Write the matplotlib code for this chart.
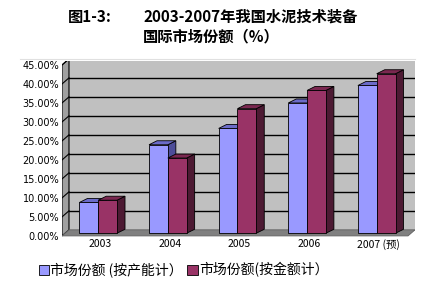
import matplotlib
matplotlib.use("Agg")
import matplotlib.pyplot as plt
from matplotlib.patches import Polygon, Patch

plt.rcParams['font.family'] = ['Noto Sans CJK SC', 'DejaVu Sans']

categories = ["2003", "2004", "2005", "2006", "2007 (预)"]
series_names = ["市场份额 (按产能计）", "市场份额(按金额计）"]
capacity_share = [8.1, 23.3, 27.6, 34.3, 38.9]
amount_share = [8.7, 19.8, 32.8, 37.6, 42.0]
ytick_vals = [0, 5, 10, 15, 20, 25, 30, 35, 40, 45]
ytick_labels = ["0.00%", "5.00%", "10.00%", "15.00%", "20.00%", "25.00%",
                "30.00%", "35.00%", "40.00%", "45.00%"]

W, H = 428, 287
fig = plt.figure(figsize=(W / 100, H / 100), dpi=100)
ax = fig.add_axes([62 / W, (H - 238) / H, 353 / W, 177 / H])
x0, x1 = -0.55, 4.52
ax.set_xlim(x0, x1)
ax.set_ylim(-0.55, 46.05)
for s in ax.spines.values():
    s.set_visible(False)

dxw, dyw = 0.1, 1.6
ymax = 45
# back wall
ax.add_patch(Polygon([(x0 + dxw, dyw), (x1, dyw), (x1, ymax + dyw), (x0 + dxw, ymax + dyw)],
                     closed=True, facecolor="#c0c0c0", edgecolor="#a8a8a8", lw=0.6, zorder=0))
# side wall
ax.add_patch(Polygon([(x0, 0), (x0 + dxw, dyw), (x0 + dxw, ymax + dyw), (x0, ymax)],
                     closed=True, facecolor="#a0a0a0", edgecolor="black", lw=0.8, zorder=0.5))
# floor
ax.add_patch(Polygon([(x0, 0), (x1 - dxw, 0), (x1, dyw), (x0 + dxw, dyw)],
                     closed=True, facecolor="#808080", edgecolor="#606060", lw=0.6, zorder=0.5))
for y in ytick_vals[1:]:
    ax.plot([x0 + dxw, x1], [y + dyw, y + dyw], color="black", lw=1.0, zorder=1)
    ax.plot([x0, x0 + dxw], [y, y + dyw], color="black", lw=0.8, zorder=1)

# bars
bw = 0.27
ddx, ddy = 0.115, 1.05
by = 0.7
styles = [
    ("#9999ff", "#6b6bc8", "#4d4d99"),
    ("#993366", "#7a2850", "#4d1a33"),
]
for i in range(len(categories)):
    for k, vals in enumerate([capacity_share, amount_share]):
        v = vals[i]
        left = i - 0.30 + k * bw
        right = left + bw
        front, top, side = styles[k]
        z = 2 + i * 2 + k
        ax.add_patch(Polygon([(right, by), (right + ddx, by + ddy), (right + ddx, by + v + ddy), (right, by + v)],
                             closed=True, facecolor=side, edgecolor="black", lw=0.6, zorder=z))
        ax.add_patch(Polygon([(left, by + v), (right, by + v), (right + ddx, by + v + ddy), (left + ddx, by + v + ddy)],
                             closed=True, facecolor=top, edgecolor="black", lw=0.6, zorder=z))
        ax.add_patch(Polygon([(left, by), (right, by), (right, by + v), (left, by + v)],
                             closed=True, facecolor=front, edgecolor="black", lw=0.6, zorder=z + 0.5))

ax.set_yticks(ytick_vals)
ax.set_yticklabels(ytick_labels, fontsize=7, family=['DejaVu Sans'])
ax.set_xticks(range(len(categories)))
ax.set_xticklabels(categories, fontsize=7.5)
ax.tick_params(axis="y", length=0, pad=2)
ax.tick_params(axis="x", length=0, pad=1)

# title
fig.text(68 / W, 1 - 17 / H, "图1-3:", fontsize=11, fontweight="bold", va="center", ha="left")
fig.text(143 / W, 1 - 17 / H, "2003-2007年我国水泥技术装备", fontsize=11, fontweight="bold", va="center", ha="left")
fig.text(143 / W, 1 - 36 / H, "国际市场份额（%）", fontsize=11, fontweight="bold", va="center", ha="left")
fig.add_artist(plt.Line2D([20 / W, 415 / W], [1 - 59 / H, 1 - 59 / H], color="#e0e0e0", lw=0.8))

handles = [Patch(facecolor=styles[0][0], edgecolor="black", lw=0.6),
           Patch(facecolor=styles[1][0], edgecolor="black", lw=0.6)]
fig.legend(handles, series_names, loc="center left", bbox_to_anchor=(33 / W, 17 / H),
           ncol=2, frameon=False, fontsize=10, handlelength=0.75, handleheight=0.75,
           handletextpad=0.1, columnspacing=0.3, borderaxespad=0)

fig.savefig("out.png", dpi=100, facecolor="white")
